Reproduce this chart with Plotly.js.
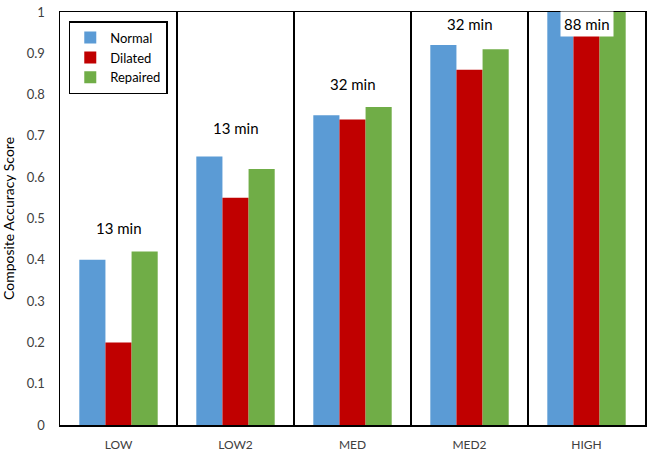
<!DOCTYPE html>
<html>
<head>
<meta charset="utf-8">
<script src="https://cdn.plot.ly/plotly-3.0.1.min.js"></script>
<style>
  html, body { margin: 0; padding: 0; background: #fff; }
  #chart { width: 654px; height: 457px; }
</style>
</head>
<body>
<div id="chart"></div>
<script>
const categories = ['LOW', 'LOW2', 'MED', 'MED2', 'HIGH'];
const normal = [0.40, 0.65, 0.75, 0.92, 1.0];
const dilated = [0.20, 0.55, 0.74, 0.86, 1.0];
const repaired = [0.42, 0.62, 0.77, 0.91, 1.0];
const timeLabels = ['13 min', '13 min', '32 min', '32 min', '88 min'];
const labelY = [0.477, 0.72, 0.826, 0.97, 0.97];

const FONT = 'Lato, "Open Sans", sans-serif';

const series = [
  { name: 'Normal', y: normal, color: '#5B9BD5' },
  { name: 'Dilated', y: dilated, color: '#C00000' },
  { name: 'Repaired', y: repaired, color: '#70AD47' },
];

const traces = series.map(s => ({
  type: 'bar',
  name: s.name,
  x: categories,
  y: s.y,
  marker: { color: s.color, line: { width: 0 } },
  hoverinfo: 'skip',
}));

const annotations = categories.map((c, i) => ({
  x: c,
  y: labelY[i],
  xref: 'x',
  yref: 'y',
  text: timeLabels[i],
  showarrow: false,
  font: { family: FONT, size: 15, color: '#000' },
  bgcolor: i === categories.length - 1 ? '#fff' : 'rgba(0,0,0,0)',
  borderpad: 3,
}));

const layout = {
  width: 654,
  height: 457,
  margin: { l: 60, r: 9, t: 12, b: 32 },
  paper_bgcolor: '#fff',
  plot_bgcolor: '#fff',
  font: { family: FONT, size: 12, color: '#404040' },
  barmode: 'group',
  bargap: 0.33,
  bargroupgap: 0,
  showlegend: true,
  legend: {
    x: 0.015, y: 0.978, xanchor: 'left', yanchor: 'top',
    bgcolor: '#fff',
    bordercolor: '#000',
    borderwidth: 1.5,
    font: { family: FONT, size: 13, color: '#000' },
    itemwidth: 30,
    tracegroupgap: 0,
  },
  xaxis: {
    type: 'category',
    tickson: 'boundaries',
    showgrid: true,
    gridcolor: '#000',
    gridwidth: 1.5,
    ticks: '',
    showline: true,
    linecolor: '#000',
    linewidth: 1.5,
    mirror: true,
    ticklabelstandoff: 8,
    tickfont: { family: FONT, size: 12, color: '#404040' },
    fixedrange: true,
  },
  yaxis: {
    range: [0, 1],
    tickvals: [0, 0.1, 0.2, 0.3, 0.4, 0.5, 0.6, 0.7, 0.8, 0.9, 1],
    ticktext: ['0', '0.1', '0.2', '0.3', '0.4', '0.5', '0.6', '0.7', '0.8', '0.9', '1'],
    showgrid: false,
    zeroline: false,
    ticks: '',
    showline: true,
    linecolor: '#000',
    linewidth: 1.5,
    mirror: true,
    ticklabelstandoff: 11,
    tickfont: { family: FONT, size: 13, color: '#404040' },
    title: { text: 'Composite Accuracy Score', font: { family: FONT, size: 14, color: '#000' }, standoff: 10 },
    fixedrange: true,
  },
  annotations,
};

Plotly.newPlot('chart', traces, layout, { displayModeBar: false, staticPlot: true });
</script>
</body>
</html>
